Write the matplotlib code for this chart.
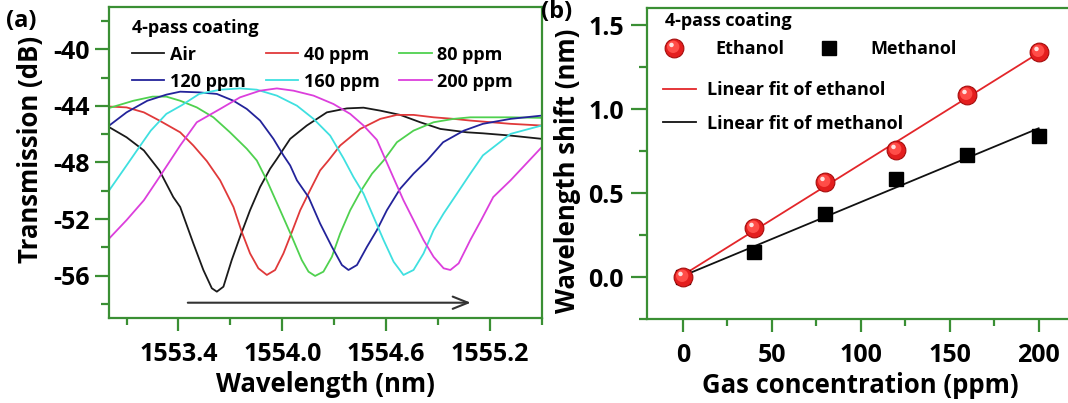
import numpy as np
import matplotlib
matplotlib.use("Agg")
import matplotlib.pyplot as plt
from matplotlib.ticker import MultipleLocator, FormatStrFormatter
from matplotlib.path import Path
from matplotlib.legend_handler import HandlerTuple

plt.rcParams['font.family'] = ['Open Sans', 'DejaVu Sans']
plt.rcParams['font.weight'] = 'bold'
plt.rcParams['axes.unicode_minus'] = False

# ---------------- panel (a): transmission spectra ----------------
wl_air = [1553.00, 1553.10, 1553.20, 1553.29, 1553.37, 1553.41, 1553.486, 1553.544, 1553.593, 1553.622,
          1553.660, 1553.708, 1553.756, 1553.814, 1553.872, 1553.930, 1553.969, 1554.046, 1554.142, 1554.258,
          1554.374, 1554.470, 1554.567, 1554.682, 1554.798, 1554.914, 1555.068, 1555.16, 1555.32, 1555.50]
tr_air = [-45.51, -46.22, -47.15, -48.56, -50.44, -51.14, -53.71, -55.59, -56.88, -57.12,
          -56.77, -54.89, -53.25, -51.37, -49.73, -48.44, -47.75, -46.33, -45.39, -44.46,
          -44.18, -44.13, -44.34, -44.64, -45.16, -45.63, -45.87, -45.94, -46.10, -46.33]

wl_40 = [1553.00, 1553.10, 1553.20, 1553.29, 1553.41, 1553.486, 1553.564, 1553.641, 1553.718, 1553.766,
         1553.814, 1553.862, 1553.911, 1553.959, 1554.007, 1554.056, 1554.104, 1554.161, 1554.219, 1554.267,
         1554.335, 1554.451, 1554.567, 1554.663, 1554.759, 1554.875, 1554.991, 1555.087, 1555.32, 1555.50]
tr_40 = [-44.05, -44.11, -44.46, -45.04, -45.87, -46.80, -47.90, -49.26, -51.14, -52.90,
         -54.42, -55.47, -55.94, -55.59, -54.42, -52.90, -51.37, -49.96, -48.56, -47.86,
         -46.80, -45.63, -44.92, -44.64, -44.64, -44.81, -44.92, -45.04, -45.27, -45.39]

wl_80 = [1553.00, 1553.14, 1553.25, 1553.33, 1553.41, 1553.506, 1553.602, 1553.698, 1553.795, 1553.853,
         1553.911, 1553.988, 1554.056, 1554.113, 1554.152, 1554.190, 1554.238, 1554.287, 1554.335, 1554.393,
         1554.451, 1554.519, 1554.586, 1554.663, 1554.759, 1554.875, 1554.991, 1555.087, 1555.20, 1555.32,
         1555.50]
tr_80 = [-44.15, -43.64, -43.35, -43.35, -43.64, -44.11, -44.81, -45.87, -47.03, -47.86,
         -49.26, -51.37, -53.25, -54.89, -55.71, -56.01, -55.71, -54.66, -53.01, -51.37,
         -50.08, -48.79, -47.86, -46.57, -45.75, -45.16, -44.92, -44.81, -44.81, -44.81,
         -44.85]

wl_120 = [1553.00, 1553.10, 1553.22, 1553.33, 1553.41, 1553.52, 1553.622, 1553.718, 1553.795, 1553.872,
          1553.949, 1554.007, 1554.046, 1554.085, 1554.152, 1554.219, 1554.287, 1554.345, 1554.383, 1554.432,
          1554.490, 1554.547, 1554.605, 1554.682, 1554.759, 1554.837, 1554.93, 1555.05, 1555.16, 1555.32,
          1555.50]
tr_120 = [-45.39, -44.46, -43.64, -43.21, -43.00, -43.05, -43.16, -43.64, -44.22, -45.04,
          -46.33, -47.50, -48.21, -49.26, -50.44, -52.31, -53.95, -55.24, -55.59, -55.24,
          -53.95, -52.78, -51.37, -49.85, -48.79, -47.86, -46.57, -45.75, -45.27, -44.92,
          -44.69]

wl_160 = [1553.00, 1553.08, 1553.16, 1553.24, 1553.33, 1553.42, 1553.52, 1553.641, 1553.756, 1553.853,
          1553.969, 1554.085, 1554.181, 1554.277, 1554.354, 1554.412, 1554.470, 1554.528, 1554.586, 1554.644,
          1554.701, 1554.759, 1554.817, 1554.875, 1554.933, 1555.010, 1555.087, 1555.16, 1555.32, 1555.50]
tr_160 = [-49.96, -48.56, -47.15, -45.75, -44.57, -43.95, -43.16, -42.86, -42.77, -42.86,
          -43.28, -43.99, -44.92, -46.10, -47.70, -49.03, -50.20, -51.84, -53.48, -55.01,
          -55.94, -55.59, -54.42, -52.78, -51.60, -50.20, -48.79, -47.50, -45.98, -45.39]

wl_200 = [1553.00, 1553.10, 1553.20, 1553.29, 1553.41, 1553.506, 1553.641, 1553.756, 1553.872, 1553.969,
          1554.065, 1554.181, 1554.296, 1554.393, 1554.470, 1554.547, 1554.59, 1554.644, 1554.701, 1554.759,
          1554.817, 1554.875, 1554.933, 1554.972, 1555.020, 1555.068, 1555.087, 1555.15, 1555.22, 1555.32,
          1555.50]
tr_200 = [-53.36, -52.07, -50.67, -49.03, -46.80, -45.16, -44.22, -43.40, -42.93, -42.77,
          -42.93, -43.28, -43.87, -44.57, -45.39, -46.40, -47.60, -49.10, -50.67, -52.07,
          -53.48, -54.66, -55.47, -55.59, -55.12, -53.95, -53.48, -52.07, -50.44, -49.26,
          -46.92]

spectra_labels = ['Air', '40 ppm', '80 ppm', '120 ppm', '160 ppm', '200 ppm']
spectra_colors = ['#1a1a1a', '#e0393a', '#4fd14f', '#23239a', '#3fe0e0', '#dc3fdc']
arrow_start = (1553.454, -57.9)
arrow_end = (1555.09, -57.9)

# ---------------- panel (b): wavelength shift ----------------
conc = [0, 40, 80, 120, 160, 200]
shift_ethanol = [0.0, 0.295, 0.567, 0.755, 1.085, 1.338]
shift_methanol = [0.0, 0.152, 0.376, 0.585, 0.728, 0.842]

GREEN = '#3a8f34'

fig = plt.figure(figsize=(10.68, 4.03), dpi=100)
axa = fig.add_axes([0.1023, 0.2102, 0.4049, 0.7732])
axb = fig.add_axes([0.6061, 0.2077, 0.3939, 0.7717])


def style(ax, ylen, ypad, xpad):
    for s in ax.spines.values():
        s.set_color(GREEN)
        s.set_linewidth(1.6)
    ax.tick_params(which='both', direction='out', color=GREEN, width=1.6,
                   top=False, right=False, labelsize=18)
    ax.tick_params(axis='y', which='major', length=ylen, pad=ypad)
    ax.tick_params(axis='y', which='minor', length=5.5)
    ax.tick_params(axis='x', which='major', length=9.5, pad=xpad)
    ax.tick_params(axis='x', which='minor', length=5)


# ---- panel (a)
series = [(wl_air, tr_air), (wl_40, tr_40), (wl_80, tr_80),
          (wl_120, tr_120), (wl_160, tr_160), (wl_200, tr_200)]
handles = []
for (w, t), lab, col in zip(series, spectra_labels, spectra_colors):
    h, = axa.plot(w, t, color=col, lw=1.3, label=lab, solid_joinstyle='round')
    handles.append(h)

axa.annotate('', xy=arrow_end, xytext=arrow_start,
             arrowprops=dict(arrowstyle='->,head_length=0.55,head_width=0.22',
                             color='#333333', lw=1.5, mutation_scale=20,
                             shrinkA=0, shrinkB=0))

axa.set_xlim(1553.0, 1555.5)
axa.set_ylim(-59, -37)
axa.xaxis.set_major_locator(MultipleLocator(0.6))
axa.xaxis.set_minor_locator(MultipleLocator(0.3))
axa.xaxis.set_major_formatter(FormatStrFormatter('%.1f'))
axa.yaxis.set_major_locator(MultipleLocator(4))
axa.yaxis.set_minor_locator(MultipleLocator(2))
style(axa, 10, 4.0, 7.5)

axa.set_xlabel('Wavelength (nm)', fontsize=18.5, fontweight='bold')
axa.xaxis.set_label_coords(0.5, -0.168)
axa.set_ylabel('Transmission (dB)', fontsize=18.5, fontweight='bold')
axa.yaxis.set_label_coords(-0.151, 0.543)

order = [0, 3, 1, 4, 2, 5]
axa.legend(handles=[handles[i] for i in order], ncol=3, loc='upper left',
           bbox_to_anchor=(0.0525, 0.962), borderaxespad=0, borderpad=0,
           frameon=False, handlelength=1.8, handletextpad=0.3, columnspacing=1.1,
           labelspacing=0.5, title='4-pass coating', alignment='left',
           title_fontproperties={'weight': 'bold', 'size': 13},
           prop={'weight': 'bold', 'size': 13})

# ---- panel (b)
ms_ball = 13.5
glow_path = Path.circle((-0.07, 0.09), 0.33)
hl_path = Path.circle((-0.16, 0.19), 0.12)


def ms_for(path):
    return 2 * np.max(np.abs(path.vertices)) * ms_ball


cx = np.linspace(0, 200, 50)
pe = np.polyfit(conc, shift_ethanol, 1)
pm = np.polyfit(conc, shift_methanol, 1)
fit_e, = axb.plot(cx, np.polyval(pe, cx), color='#e3262a', lw=1.3, zorder=2)
fit_m, = axb.plot(cx, np.polyval(pm, cx), color='#111111', lw=1.3, zorder=2)

sq, = axb.plot(conc, shift_methanol, 's', color='black', ms=10.5, ls='none', zorder=3)
b1, = axb.plot(conc, shift_ethanol, 'o', color='#e41e1e', mec='#a50d0d', mew=0.8,
               ms=ms_ball, ls='none', zorder=4)
b2, = axb.plot(conc, shift_ethanol, marker=glow_path, color='#ff4d48', mew=0,
               ms=ms_for(glow_path), ls='none', zorder=5)
b3, = axb.plot(conc, shift_ethanol, marker=hl_path, color='#ffe2df', mew=0,
               ms=ms_for(hl_path), ls='none', zorder=6)

axb.set_xlim(-20, 216.5)
axb.set_ylim(-0.25, 1.6)
axb.xaxis.set_major_locator(MultipleLocator(50))
axb.xaxis.set_minor_locator(MultipleLocator(25))
axb.yaxis.set_major_locator(MultipleLocator(0.5))
axb.yaxis.set_minor_locator(MultipleLocator(0.25))
axb.yaxis.set_major_formatter(FormatStrFormatter('%.1f'))
style(axb, 11.5, 5.5, 7.5)
axb.spines['right'].set_visible(False)

axb.set_xlabel('Gas concentration (ppm)', fontsize=18.5, fontweight='bold')
axb.xaxis.set_label_coords(0.506, -0.168)
axb.set_ylabel('Wavelength shift (nm)', fontsize=18.5, fontweight='bold')
axb.yaxis.set_label_coords(-0.158, 0.478)

leg1 = axb.legend(handles=[(b1, b2, b3), sq], labels=['Ethanol', 'Methanol'],
                  handler_map={tuple: HandlerTuple(ndivide=1)}, numpoints=1,
                  ncol=2, loc='upper left', bbox_to_anchor=(0.041, 0.987),
                  borderaxespad=0, borderpad=0, frameon=False, handlelength=1.0,
                  handletextpad=1.8, columnspacing=2.0, labelspacing=0.55,
                  title='4-pass coating', alignment='left',
                  title_fontproperties={'weight': 'bold', 'size': 13},
                  prop={'weight': 'bold', 'size': 13})
axb.add_artist(leg1)
axb.legend(handles=[fit_e, fit_m], labels=['Linear fit of ethanol', 'Linear fit of methanol'],
           loc='upper left', bbox_to_anchor=(0.037, 0.765), borderaxespad=0, borderpad=0,
           frameon=False, handlelength=1.83, handletextpad=0.6, labelspacing=0.85,
           prop={'weight': 'bold', 'size': 13})

fig.text(0.006, 0.978, '(a)', fontsize=17, fontweight='bold', va='top', ha='left')
fig.text(0.507, 0.999, '(b)', fontsize=17, fontweight='bold', va='top', ha='left')

fig.savefig('out.png', dpi=100, facecolor='white')
